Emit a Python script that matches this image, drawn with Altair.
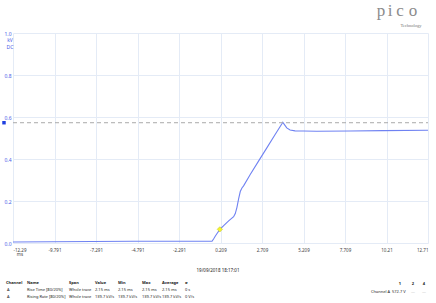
import altair as alt
import pandas as pd

# ---- data ----
time_ms = [-12.29, -10.0, -7.5, -5.0, -2.5, -0.5, -0.3, -0.2, -0.1, 0.0, 0.17, 0.4, 0.7,
           1.0, 1.1, 1.2, 1.3, 1.4, 1.5, 1.6, 2.0, 2.5, 3.0, 3.5, 3.9, 3.96, 4.05, 4.2,
           4.4, 4.7, 5.2, 6.0, 8.0, 10.0, 12.71]
volt_kv = [0.005, 0.006, 0.007, 0.008, 0.008, 0.008, 0.008, 0.02, 0.033, 0.045, 0.065,
           0.083, 0.105, 0.125, 0.14, 0.17, 0.21, 0.245, 0.262, 0.272, 0.326, 0.39, 0.453,
           0.517, 0.567, 0.575, 0.565, 0.548, 0.538, 0.534, 0.533, 0.532, 0.533, 0.535, 0.537]
marker_t = [0.17]
marker_v = [0.065]
level_kv = [0.5727]
x_ticks = [-12.291, -9.791, -7.291, -4.791, -2.291, 0.209, 2.709, 5.209, 7.709, 10.209, 12.709]
x_labels = ["-12.29", "-9.791", "-7.291", "-4.791", "-2.291", "0.209", "2.709", "5.209", "7.709", "10.21", "12.71"]
y_ticks = [0.0, 0.1, 0.2, 0.3, 0.4, 0.5, 0.6, 0.7, 0.8, 0.9, 1.0]

table_header = ["Channel", "Name", "Span", "Value", "Min", "Max", "Average", "σ"]
table_rows = [
    ["A", "Rise Time  [80/20%]", "Whole trace", "2.15 ms", "2.15 ms", "2.15 ms", "2.15 ms", "0 s"],
    ["A", "Rising Rate  [80/20%]", "Whole trace", "139.7 kV/s", "139.7 kV/s", "139.7 kV/s", "139.7 kV/s", "0 V/s"],
]
timestamp = "19/09/2018 18:17:01"

FONT = "Noto Sans"
BLUE = "#4a5ce8"
LINE = "#6f82f2"
GRID = "#e4ebf6"
OX, OY = 13, 33  # plot origin
W, H = 415, 210

df = pd.DataFrame({"t": time_ms, "v": volt_kv})
mk = pd.DataFrame({"t": marker_t, "v": marker_v})
lv = pd.DataFrame({"v": level_kv})

xs = alt.Scale(domain=[x_ticks[0], x_ticks[-1]], nice=False, zero=False)
ys = alt.Scale(domain=[0, 1.0], nice=False)

label_arr = "[" + ",".join("'" + s + "'" for s in x_labels) + "]"

base_axes = alt.Chart(df).mark_line(color=LINE, strokeWidth=1.1).encode(
    x=alt.X("t:Q", scale=xs,
            axis=alt.Axis(values=x_ticks, title=None, grid=True, gridColor=GRID,
                          domain=False, ticks=False, labelFontSize=4.5, labelFont=FONT,
                          labelColor="#444444", labelPadding=4,
                          labelExpr=label_arr + "[round((datum.value + 12.291) / 2.5)]")),
    y=alt.Y("v:Q", scale=ys,
            axis=alt.Axis(values=y_ticks, title=None, grid=True, gridColor=GRID,
                          domain=False, ticks=False, labelFontSize=5, labelFont=FONT,
                          labelColor=BLUE, labelPadding=2,
                          labelExpr="abs(datum.value - 0.9) < 0.001 ? '' : format(datum.value, '.1f')")),
)

level = alt.Chart(lv).mark_rule(color="#aaaaaa", strokeDash=[4, 3], strokeWidth=1).encode(
    y=alt.Y("v:Q", scale=ys), x=alt.value(0), x2=alt.value(W))

level_sq = alt.Chart(lv).mark_square(color="#1f3fe0", size=12, opacity=1, clip=False).encode(
    y=alt.Y("v:Q", scale=ys), x=alt.value(4 - OX))

marker = alt.Chart(mk).mark_point(shape="diamond", filled=True, color="#f5f52a", size=28,
                                  stroke="#c9c930", strokeWidth=0.6, opacity=1).encode(
    x=alt.X("t:Q", scale=xs), y=alt.Y("v:Q", scale=ys))


def txt(s, x, y, size=4, color="#222222", align="left", weight="normal", font=FONT,
        baseline="middle"):
    return alt.Chart(pd.DataFrame({"a": [0]})).mark_text(
        text=s, align=align, baseline=baseline, fontSize=size, color=color,
        fontWeight=weight, font=font, clip=False).encode(
        x=alt.value(x - OX), y=alt.value(y - OY))


layers = [base_axes, level, marker, level_sq]
layers += [txt("kV", 10, 40, size=5, color=BLUE, align="center"),
           txt("DC", 10, 47, size=5, color=BLUE, align="center")]
layers.append(txt("ms", 20, 255, size=4.5, color="#444444", align="center"))
layers.append(txt(timestamp, 218, 271, size=4.5, align="center"))

col_x = [6, 27, 69, 95, 118, 142, 162, 185]
row_y = [283, 290, 297]
for cx, h in zip(col_x, table_header):
    layers.append(txt(h, cx, row_y[0], weight="bold"))
for r, row in enumerate(table_rows):
    for cx, cell in zip(col_x, row):
        layers.append(txt(cell, cx + (1 if cell == "A" else 0), row_y[r + 1]))

# right-hand channel summary
layers.append(txt("1", 400, 284, weight="bold", align="center"))
layers.append(txt("2", 413, 284, weight="bold", align="center"))
layers.append(txt("4", 424, 284, weight="bold", align="center"))
layers.append(txt("Channel A", 371, 292))
layers.append(txt("572.7 V", 392, 292))
layers.append(txt("—", 413, 292, color="#bbbbbb", align="center"))
layers.append(txt("—", 424, 292, color="#bbbbbb", align="center"))

# logo (letters slightly spaced like the Pico wordmark)
for ch, cx in zip("pico", [381, 390, 400, 413]):
    layers.append(txt(ch, cx, 11, size=17, color="#8c8c8c", align="center",
                      font="Liberation Serif"))
layers.append(txt("Technology", 411, 26, size=4.5, color="#777777", align="center",
                  font="Liberation Serif"))

chart = alt.layer(*layers).properties(
    width=W, height=H,
    padding={"left": OX, "top": OY, "right": 436 - OX - W, "bottom": 303 - OY - H},
    autosize=alt.AutoSizeParams(type="none"),
    background="white",
).configure_view(stroke=None)

chart.save("out.html", embed_options={"renderer": "svg", "actions": False})
